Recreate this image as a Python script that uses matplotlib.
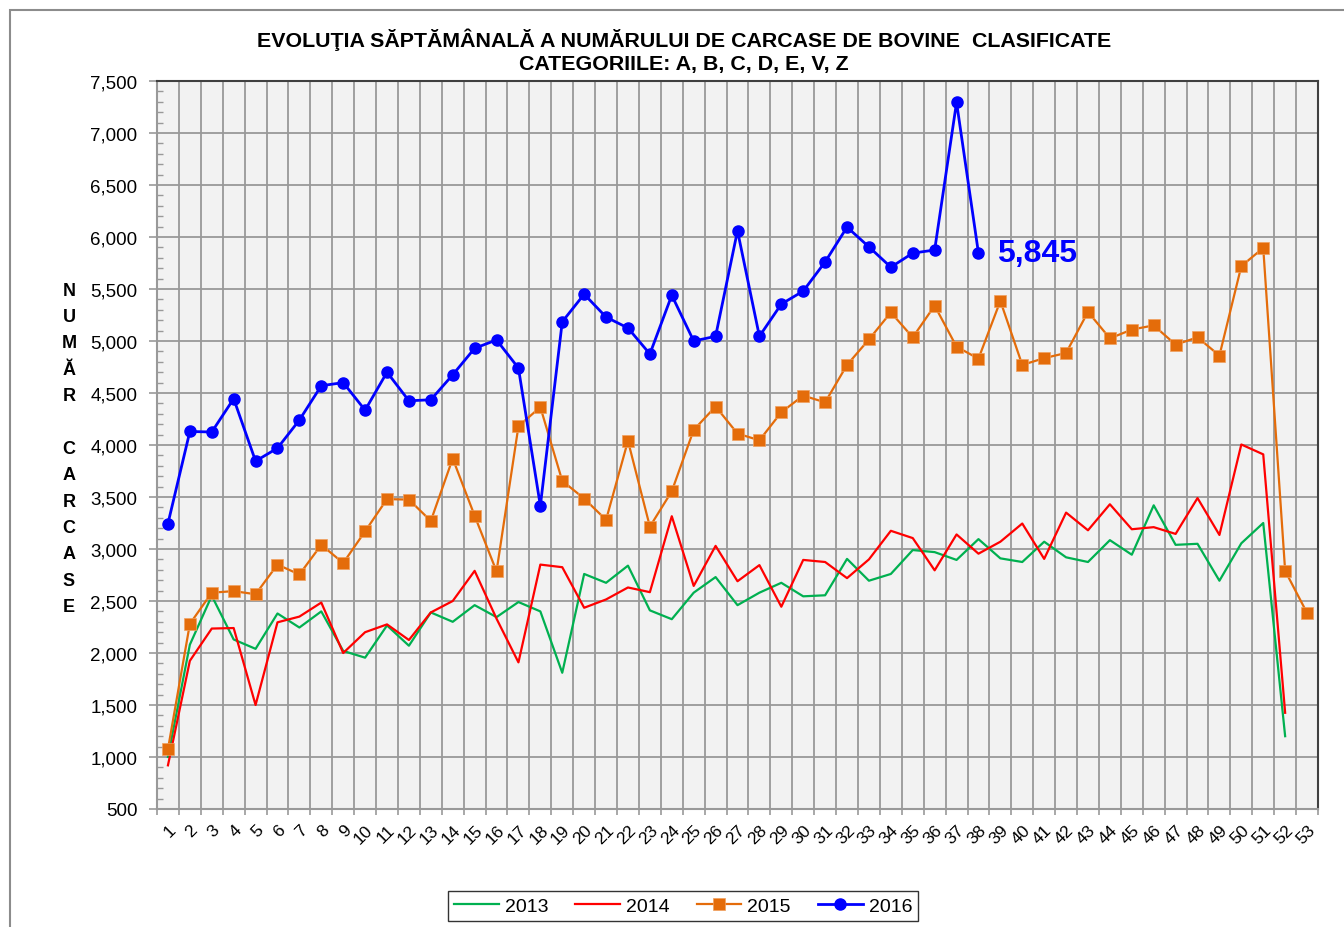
## Import packages
import matplotlib
matplotlib.use('Agg')
import matplotlib.pyplot as plt
import matplotlib.ticker as ticker
from matplotlib.patches import Rectangle

plt.rcParams['font.family'] = ['Liberation Sans', 'DejaVu Sans']

## Data: weekly number of classified bovine carcasses

weeks = list(range(1, 54))

carcase_2013 = [1000, 2080, 2550, 2130, 2040, 2380, 2245, 2400, 2020, 1955,
                2265, 2070, 2390, 2300, 2460, 2345, 2490, 2400, 1810, 2760,
                2675, 2840, 2410, 2325, 2580, 2730, 2460, 2580, 2675, 2545,
                2555, 2905, 2695, 2760, 2990, 2970, 2895, 3095, 2910, 2875,
                3070, 2920, 2875, 3085, 2945, 3420, 3040, 3050, 2695, 3055,
                3250, 1200]

carcase_2014 = [920, 1925, 2235, 2240, 1500, 2295, 2350, 2485, 2000, 2200,
                2275, 2125, 2390, 2500, 2790, 2330, 1910, 2850, 2825, 2435,
                2515, 2630, 2585, 3315, 2645, 3030, 2690, 2845, 2445, 2895,
                2875, 2720, 2900, 3175, 3105, 2795, 3140, 2955, 3070, 3245,
                2905, 3350, 3180, 3430, 3190, 3210, 3145, 3490, 3135, 4005,
                3910, 1425]

carcase_2015 = [1075, 2280, 2580, 2595, 2565, 2850, 2755, 3040, 2865, 3170,
                3480, 3475, 3270, 3870, 3320, 2785, 4180, 4365, 3655, 3485,
                3280, 4040, 3215, 3555, 4145, 4370, 4110, 4045, 4315, 4475,
                4410, 4770, 5015, 5275, 5035, 5340, 4945, 4830, 5385, 4770,
                4835, 4885, 5280, 5025, 5110, 5150, 4965, 5035, 4860, 5720,
                5895, 2790, 2385]

carcase_2016 = [3245, 4130, 4125, 4445, 3845, 3970, 4240, 4570, 4600, 4335,
                4700, 4425, 4435, 4675, 4930, 5010, 4740, 3415, 5185, 5450,
                5230, 5125, 4875, 5440, 5000, 5045, 6060, 5045, 5355, 5480,
                5760, 6095, 5905, 5710, 5845, 5875, 7295, 5845]

last_label = '5,845'

title_line1 = 'EVOLUŢIA SĂPTĂMÂNALĂ A NUMĂRULUI DE CARCASE DE BOVINE  CLASIFICATE'
title_line2 = 'CATEGORIILE: A, B, C, D, E, V, Z'
y_label = 'NUMĂR CARCASE'

## Plot

fig = plt.figure(figsize=(13.44, 9.28), dpi=100)
ax = fig.add_axes([157 / 1344, 1 - 810 / 928, 1161 / 1344, 728 / 928])

# Chart area border
fig.patches.append(Rectangle((10 / 1344, -0.05), 1.1, 1 - 11 / 928 + 0.05,
                             transform=fig.transFigure, fill=False,
                             edgecolor='#8c8c8c', linewidth=1.5, zorder=0))

ax.set_facecolor('#f2f2f2')

ax.plot(weeks[:len(carcase_2013)], carcase_2013, color='#00b050', linewidth=1.6, label='2013', zorder=3)
ax.plot(weeks[:len(carcase_2014)], carcase_2014, color='#ff0000', linewidth=1.6, label='2014', zorder=4)
ax.plot(weeks[:len(carcase_2015)], carcase_2015, color='#e46c0a', linewidth=1.6, marker='s',
        markersize=8.5, markeredgecolor='#f0a060', markeredgewidth=0.5, label='2015', zorder=5)
ax.plot(weeks[:len(carcase_2016)], carcase_2016, color='#0000ff', linewidth=2, marker='o',
        markersize=8, label='2016', zorder=6)

# Label for the last 2016 value
ax.annotate(last_label, xy=(len(carcase_2016), carcase_2016[-1]), xytext=(13, 0),
            textcoords='offset points', ha='left', va='center',
            fontsize=23, fontweight='bold', color='#0000ff', zorder=7)

# Axes limits and ticks
ax.set_xlim(0.5, 53.5)
ax.set_ylim(500, 7500)

ax.set_xticks(weeks)
ax.set_xticklabels([str(w) for w in weeks], rotation=45, ha='right', va='top',
                   rotation_mode='anchor', fontsize=12.5)
ax.xaxis.set_minor_locator(ticker.FixedLocator([w + 0.5 for w in range(0, 54)]))
ax.tick_params(axis='x', which='major', length=0, pad=9)
ax.tick_params(axis='x', which='minor', length=4, width=1.2, color='#999999', direction='out')

ax.yaxis.set_major_locator(ticker.MultipleLocator(500))
ax.yaxis.set_minor_locator(ticker.MultipleLocator(100))
ax.yaxis.set_major_formatter(ticker.StrMethodFormatter('{x:,.0f}'))
ax.tick_params(axis='y', which='major', length=6, width=1.2, color='#999999',
               direction='out', labelsize=13.5, pad=8)
ax.tick_params(axis='y', which='minor', length=4, width=1, color='#999999', direction='in')

# Gridlines
ax.grid(which='minor', axis='x', color='#999999', linewidth=1.3)
ax.grid(which='major', axis='y', color='#999999', linewidth=1.3)
ax.set_axisbelow(True)

for side in ['left', 'bottom']:
    ax.spines[side].set_color('#999999')
    ax.spines[side].set_linewidth(1.5)
for side in ['top', 'right']:
    ax.spines[side].set_color('#404040')
    ax.spines[side].set_linewidth(1.5)

# Titles
fig.text(684 / 1344, 1 - 40 / 928, title_line1, ha='center', va='center',
         fontsize=15.4, fontweight='bold')
fig.text(684 / 1344, 1 - 65 / 928, title_line2, ha='center', va='center',
         fontsize=15.4, fontweight='bold')

# Vertical stacked y label
letters = list(y_label)
for i, ch in enumerate(letters):
    fig.text(69 / 1344, 1 - (291 + i * 26.4) / 928, ch, ha='center', va='center',
             fontsize=13, fontweight='bold')

# Legend
leg = fig.legend(loc='center', bbox_to_anchor=(683 / 1344, 1 - 907 / 928), ncol=4,
                 fontsize=14, frameon=True, fancybox=False, handlelength=2.3,
                 columnspacing=1.4, handletextpad=0.3, borderpad=0.3, borderaxespad=0)
leg.get_frame().set_edgecolor('black')
leg.get_frame().set_linewidth(1)

fig.savefig('out.png', dpi=100)
